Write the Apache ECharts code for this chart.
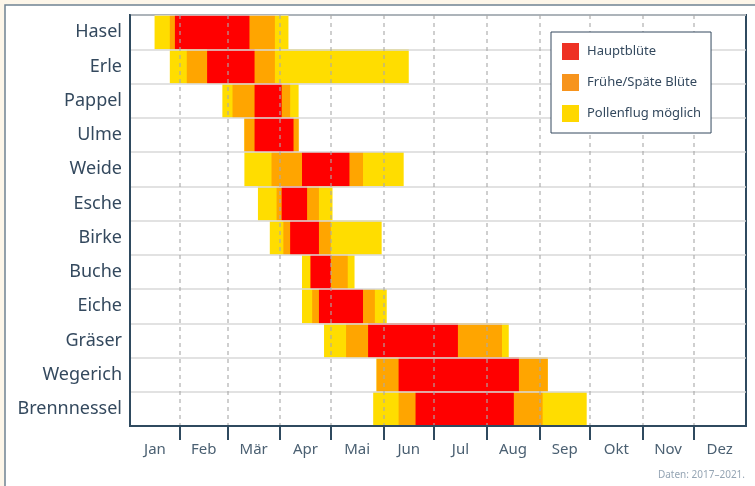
<!DOCTYPE html>
<html>
<head>
<meta charset="utf-8">
<script src="https://cdn.jsdelivr.net/npm/echarts@6/dist/echarts.min.js"></script>
<style>
  html, body { margin: 0; padding: 0; background: #fdf6e9; }
  #main { width: 755px; height: 486px; }
</style>
</head>
<body>
<div id="main"></div>
<script>
// Pflanzen (von oben nach unten)
var plants = ['Hasel', 'Erle', 'Pappel', 'Ulme', 'Weide', 'Esche', 'Birke', 'Buche', 'Eiche', 'Gräser', 'Wegerich', 'Brennnessel'];

// Tag im Jahr (0 = 1. Jan)
var pollenStart = [16, 25, 56, 69, 69, 77, 84, 103, 103, 116, 147, 145];
var fruehStart  = [25, 35, 62, 69, 85, 88, 92, 108, 109, 129, 147, 160];
var hauptStart  = [28, 47, 75, 75, 103, 91, 96, 108, 113, 142, 160, 170];
var hauptEnd    = [72, 75, 91, 98, 131, 106, 113, 120, 139, 195, 231, 228];
var spaetEnd    = [87, 87, 96, 101, 139, 113, 120, 130, 146, 221, 248, 245];
var pollenEnd   = [95, 166, 101, 101, 163, 121, 150, 134, 153, 225, 248, 271];

var monthNames  = ['Jan', 'Feb', 'Mär', 'Apr', 'Mai', 'Jun', 'Jul', 'Aug', 'Sep', 'Okt', 'Nov', 'Dez'];
var monthStarts = [31, 59, 90, 120, 151, 181, 212, 243, 273, 304, 334];
var monthMids   = [16.25, 45, 74.5, 105, 135.5, 166, 196.5, 227.5, 258, 288.5, 319, 349.5];

var textColor = '#34495e';

function segData(from, to) {
  var out = [];
  for (var i = 0; i < plants.length; i++) {
    out.push([i, from[i], to[i]]);
  }
  return out;
}

function renderSeg(params, api) {
  var cat = api.value(0);
  var p0 = api.coord([api.value(1), cat]);
  var p1 = api.coord([api.value(2), cat]);
  var h = api.size([0, 1])[1];
  return {
    type: 'rect',
    shape: { x: p0[0], y: p0[1] - h / 2, width: p1[0] - p0[0], height: h },
    style: api.style()
  };
}

var chart = echarts.init(document.getElementById('main'));

var option = {
  backgroundColor: '#fdf6e9',
  animation: false,
  textStyle: { fontFamily: 'Noto Sans' },
  graphic: [
    {
      type: 'rect', z: -100, silent: true,
      shape: { x: 5, y: 5, width: 800, height: 600 },
      style: { fill: '#ffffff', stroke: '#6f8293', lineWidth: 1.5 }
    },
    {
      type: 'text', right: 10, top: 470, z: 30,
      style: { text: 'Daten: 2017–2021.', fill: '#95a5b4', font: '10px "Noto Sans"' }
    }
  ],
  grid: {
    left: 130, right: 9, top: 15, bottom: 60,
    show: true, borderColor: '#2f4a5f', borderWidth: 2, backgroundColor: 'transparent'
  },
  legend: {
    orient: 'vertical',
    left: 551, top: 32,
    z: 20,
    padding: [11, 10, 11, 11],
    itemWidth: 17, itemHeight: 17, itemGap: 14,
    backgroundColor: '#ffffff',
    borderColor: textColor, borderWidth: 1,
    icon: 'rect',
    textStyle: { fontSize: 13, color: textColor, padding: [0, 0, 0, 3] },
    data: [
      { name: 'Hauptblüte', itemStyle: { color: '#ee3124' } },
      { name: 'Frühe/Späte Blüte', itemStyle: { color: '#f7941d' } },
      { name: 'Pollenflug möglich', itemStyle: { color: '#ffd800' } }
    ]
  },
  xAxis: {
    type: 'value',
    min: 1.5, max: 365,
    z: 10,
    axisLine: { show: true, lineStyle: { color: '#2f4a5f', width: 2 } },
    axisTick: {
      show: true, customValues: monthStarts, length: 14,
      lineStyle: { color: '#2f4a5f', width: 2 }
    },
    axisLabel: {
      customValues: monthMids,
      margin: 16, fontSize: 15, color: '#4b6072',
      formatter: function (v) {
        return monthNames[monthMids.indexOf(v)];
      }
    },
    splitLine: {
      show: true,
      lineStyle: { color: 'rgba(170,170,170,0.75)', width: 1.5, type: [4, 4] }
    }
  },
  yAxis: {
    type: 'category',
    data: plants,
    inverse: true,
    z: 10,
    axisLine: { show: true, lineStyle: { color: '#2f4a5f', width: 2 } },
    axisTick: { show: false },
    axisLabel: { fontSize: 18, color: textColor, margin: 8 },
    splitLine: { show: true, lineStyle: { color: '#d9d9d9', width: 1.5 } }
  },
  series: [
    {
      name: 'Pollenflug möglich', type: 'custom', z: 2,
      itemStyle: { color: '#ffdd00' },
      renderItem: renderSeg,
      encode: { x: [1, 2], y: 0 },
      data: segData(pollenStart, pollenEnd)
    },
    {
      name: 'Frühe/Späte Blüte', type: 'custom', z: 3,
      itemStyle: { color: '#ffa500' },
      renderItem: renderSeg,
      encode: { x: [1, 2], y: 0 },
      data: segData(fruehStart, spaetEnd)
    },
    {
      name: 'Hauptblüte', type: 'custom', z: 4,
      itemStyle: { color: '#ff0000' },
      renderItem: renderSeg,
      encode: { x: [1, 2], y: 0 },
      data: segData(hauptStart, hauptEnd)
    }
  ]
};

chart.setOption(option);
</script>
</body>
</html>
